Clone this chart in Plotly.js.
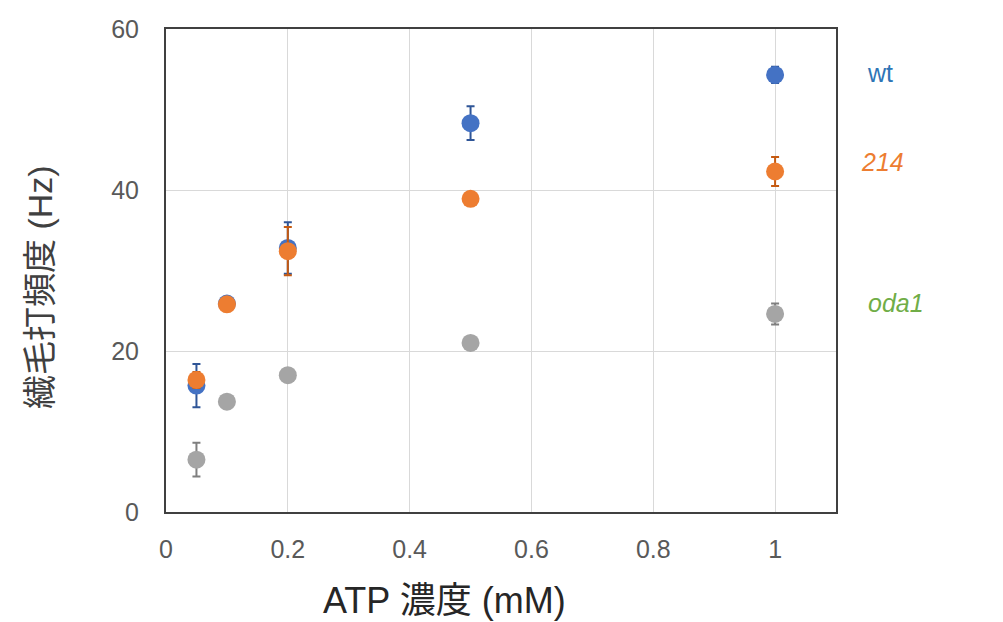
<!DOCTYPE html>
<html><head><meta charset="utf-8">
<script src="https://cdn.plot.ly/plotly-3.0.1.min.js"></script>
<style>body{margin:0;background:#fff}#c{width:1003px;height:622px}</style>
</head><body><div id="c"></div>
<script>
const atp = [0.05, 0.1, 0.2, 0.5, 1];
const wtY = [15.7, 25.9, 32.8, 48.3, 54.3];
const wtErr = [2.7, 0.6, 3.2, 2.1, 1.0];
const m214Y = [16.4, 25.8, 32.4, 38.9, 42.3];
const m214Err = [1.0, 0.6, 3.0, 0.4, 1.8];
const oda1Y = [6.5, 13.7, 17.0, 21.0, 24.6];
const oda1Err = [2.1, 0.3, 0.3, 0.3, 1.3];
const seriesNames = ['wt', '214', 'oda1'];
const xTicks = [0, 0.2, 0.4, 0.6, 0.8, 1];
const yTicks = [0, 20, 40, 60];

function tr(name, y, err, col, ecol){
  return {type:'scatter', mode:'markers', name:name, x:atp, y:y,
    marker:{color:col, size:18},
    error_y:{type:'data', array:err, visible:true, color:ecol, thickness:2, width:4},
    cliponaxis:false, showlegend:false};
}
const data = [
  tr(seriesNames[2], oda1Y, oda1Err, '#A5A5A5', '#7F7F7F'),
  tr(seriesNames[0], wtY, wtErr, '#4472C4', '#2F5597'),
  tr(seriesNames[1], m214Y, m214Err, '#ED7D31', '#C55A11')
];
const tickFont = {family:'"Liberation Sans", Arial, sans-serif', size:25, color:'#595959'};
const titleFam = '"Liberation Sans", "Noto Sans CJK JP", sans-serif';
const layout = {
  width:1003, height:622,
  margin:{l:166, r:167, t:29, b:110},
  paper_bgcolor:'#fff', plot_bgcolor:'#fff',
  xaxis:{range:[0,1.1], tickvals:xTicks, ticktext:xTicks.map(String),
    showgrid:true, gridcolor:'#D9D9D9', gridwidth:1, zeroline:false,
    showline:true, linecolor:'#404040', linewidth:2, mirror:true,
    ticks:'outside', ticklen:14, tickcolor:'rgba(0,0,0,0)', tickfont:tickFont},
  yaxis:{range:[0,60], tickvals:yTicks, ticktext:yTicks.map(String),
    showgrid:true, gridcolor:'#D9D9D9', gridwidth:1, zeroline:false,
    showline:true, linecolor:'#404040', linewidth:2, mirror:true,
    ticks:'outside', ticklen:20, tickcolor:'rgba(0,0,0,0)', tickfont:tickFont},
  annotations:[
    {text:'ATP 濃度 (mM)', xref:'paper', yref:'paper', x:(444-166)/670, y:-(600-512)/483,
     xanchor:'center', yanchor:'middle', showarrow:false,
     font:{family:titleFam, size:36, color:'#262626'}},
    {text:'繊毛打頻度 (Hz)', xref:'paper', yref:'paper', x:-(166-40)/670, y:(512-287)/483,
     xanchor:'center', yanchor:'middle', showarrow:false, textangle:-90,
     font:{family:titleFam, size:34, color:'#404040'}},
    {text:seriesNames[0], xref:'paper', yref:'y', x:(880-166)/670, y:54.5, xanchor:'center', yanchor:'middle', showarrow:false,
     font:{family:'"Liberation Sans", Arial, sans-serif', size:25, color:'#2E75B6'}},
    {text:'<i>'+seriesNames[1]+'</i>', xref:'paper', yref:'y', x:(882-166)/670, y:43.5, xanchor:'center', yanchor:'middle', showarrow:false,
     font:{family:'"Liberation Sans", Arial, sans-serif', size:25, color:'#ED7D31'}},
    {text:'<i>'+seriesNames[2]+'</i>', xref:'paper', yref:'y', x:(896-166)/670, y:26.0, xanchor:'center', yanchor:'middle', showarrow:false,
     font:{family:'"Liberation Sans", Arial, sans-serif', size:25, color:'#70AD47'}}
  ]
};
Plotly.newPlot('c', data, layout, {displayModeBar:false, staticPlot:true});
</script></body></html>
